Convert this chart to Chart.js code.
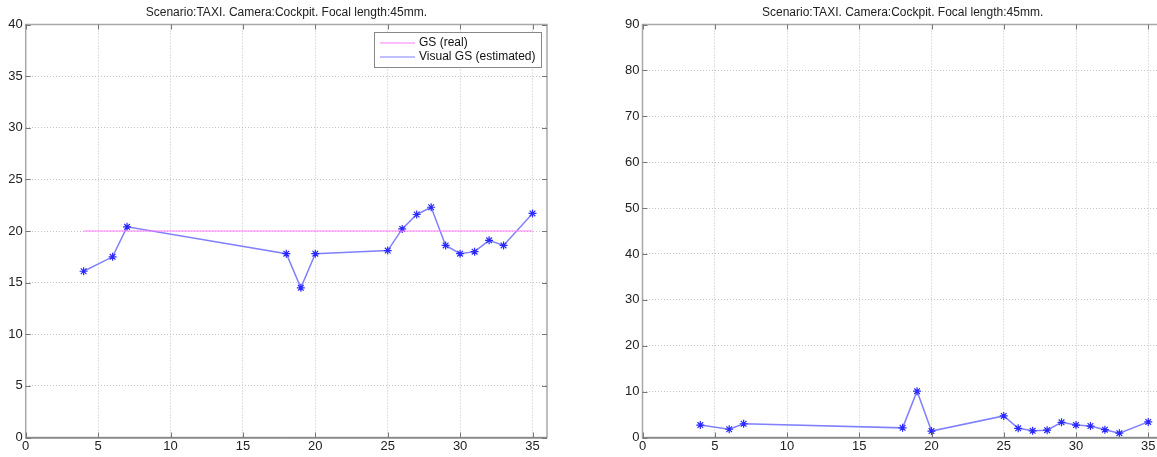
<!DOCTYPE html>
<html>
<head>
<meta charset="utf-8">
<script src="https://cdn.jsdelivr.net/npm/chart.js@4.4.0/dist/chart.umd.min.js"></script>
<style>
  html, body { margin: 0; padding: 0; background: #fff; overflow: hidden; width: 1157px; height: 457px; }
  #left { position: absolute; left: 0; top: 0; }
  #right { position: absolute; left: 580px; top: 0; }
</style>
</head>
<body>
<canvas id="left" width="580" height="457"></canvas>
<canvas id="right" width="600" height="457"></canvas>
<script>
// frame numbers where the visual estimate was taken
var frames = [4, 6, 7, 18, 19, 20, 25, 26, 27, 28, 29, 30, 31, 32, 33, 35];
// left plot: estimated ground speed
var visualGS = [16.1, 17.5, 20.4, 17.8, 14.5, 17.8, 18.1, 20.2, 21.6, 22.3, 18.6, 17.8, 18.0, 19.1, 18.6, 21.7];
// reference (real) ground speed
var realFrames = [4, 35];
var realGS = [20, 20];
// right plot: error
var gsError = [2.7, 1.8, 3.0, 2.1, 10.1, 1.4, 4.7, 2.0, 1.45, 1.6, 3.3, 2.7, 2.5, 1.7, 0.95, 3.4];

var titleText = 'Scenario:TAXI. Camera:Cockpit. Focal length:45mm.';
var xTicks = [0, 5, 10, 15, 20, 25, 30, 35];

Chart.defaults.font.family = 'Arial, "Liberation Sans", sans-serif';
Chart.defaults.color = '#222';

function pts(xs, ys) {
  return xs.map(function (x, i) { return { x: x, y: ys[i] }; });
}

// title, frame and inward tick marks, matlab style
var framePlugin = {
  id: 'frame',
  afterDraw: function (chart) {
    var ctx = chart.ctx, a = chart.chartArea;
    ctx.save();
    ctx.font = '12px Arial, "Liberation Sans", sans-serif';
    ctx.fillStyle = '#222';
    ctx.textAlign = 'center';
    ctx.textBaseline = 'middle';
    ctx.fillText(titleText, (a.left + a.right) / 2, 13);

    ctx.strokeStyle = '#a8a8a8';
    ctx.lineWidth = 1.5;
    ctx.strokeRect(a.left, a.top, a.right - a.left, a.bottom - a.top);
    ctx.strokeStyle = '#666';
    ctx.lineWidth = 1;
    ctx.beginPath();
    ctx.moveTo(a.left, a.bottom + 0.5);
    ctx.lineTo(a.right, a.bottom + 0.5);
    ctx.stroke();

    ctx.strokeStyle = '#777';
    var xs = chart.scales.x, ys = chart.scales.y;
    ctx.beginPath();
    xs.ticks.forEach(function (t) {
      if (t.value % 5 !== 0) return;
      var px = Math.round(xs.getPixelForValue(t.value)) + 0.5;
      ctx.moveTo(px, a.bottom); ctx.lineTo(px, a.bottom - 5);
      ctx.moveTo(px, a.top); ctx.lineTo(px, a.top + 5);
    });
    ys.ticks.forEach(function (t) {
      var py = Math.round(ys.getPixelForValue(t.value)) + 0.5;
      ctx.moveTo(a.left, py); ctx.lineTo(a.left + 5, py);
      ctx.moveTo(a.right, py); ctx.lineTo(a.right - 5, py);
    });
    ctx.stroke();
    ctx.restore();
  }
};

// legend box drawn inside the plot (top right)
var insideLegend = {
  id: 'insideLegend',
  afterDraw: function (chart, args, opts) {
    if (!opts.show) return;
    var ctx = chart.ctx, a = chart.chartArea;
    var w = 167, h = 35;
    var x0 = a.right - 6 - w, y0 = a.top + 7.5;
    ctx.save();
    ctx.fillStyle = '#fff';
    ctx.fillRect(x0, y0, w, h);
    ctx.strokeStyle = '#888';
    ctx.lineWidth = 1;
    ctx.strokeRect(Math.round(x0) + 0.5, Math.round(y0) + 0.5, w, h);
    ctx.font = '12px Arial, "Liberation Sans", sans-serif';
    ctx.textBaseline = 'middle';
    chart.data.datasets.forEach(function (ds, i) {
      var yy = y0 + 11 + i * 14;
      ctx.strokeStyle = ds.borderColor;
      ctx.lineWidth = 1.2;
      ctx.beginPath();
      ctx.moveTo(x0 + 6, yy); ctx.lineTo(x0 + 41, yy);
      ctx.stroke();
      ctx.fillStyle = '#111';
      ctx.fillText(ds.label, x0 + 45, yy);
    });
    ctx.restore();
  }
};

function makeChart(id, datasets, yMax, yStep, yWidth, padRight, showLegend) {
  return new Chart(document.getElementById(id), {
    type: 'line',
    data: { datasets: datasets },
    options: {
      responsive: false,
      animation: false,
      devicePixelRatio: 1,
      layout: { padding: { left: 0, right: padRight, top: 24.5, bottom: 0 } },
      plugins: {
        legend: { display: false },
        tooltip: { enabled: false },
        insideLegend: { show: showLegend }
      },
      scales: {
        x: {
          type: 'linear',
          min: 0,
          max: 36,
          afterFit: function (s) { s.height = 19.5; },
          afterBuildTicks: function (s) {
            s.ticks = xTicks.map(function (v) { return { value: v }; });
          },
          ticks: {
            autoSkip: false,
            maxRotation: 0,
            padding: 1,
            font: { size: 13 },
            color: '#222'
          },
          grid: { color: '#c4c4c4', drawTicks: false, lineWidth: 1 },
          border: { display: false, dash: [1, 2] }
        },
        y: {
          min: 0,
          max: yMax,
          afterFit: function (s) { s.width = yWidth; },
          ticks: {
            stepSize: yStep,
            padding: 3,
            font: { size: 13 },
            color: '#222'
          },
          grid: { color: '#c4c4c4', drawTicks: false, lineWidth: 1 },
          border: { display: false, dash: [1, 2] }
        }
      }
    },
    plugins: [framePlugin, insideLegend]
  });
}

var starPoints = {
  pointStyle: 'star',
  pointRadius: 4,
  pointBorderColor: '#2a2aff',
  pointBackgroundColor: '#2a2aff',
  pointBorderWidth: 1.2
};

makeChart('left', [
  {
    label: 'GS (real)',
    data: pts(realFrames, realGS),
    borderColor: '#ff7cff',
    borderWidth: 1.2,
    pointRadius: 0,
    tension: 0
  },
  Object.assign({
    label: 'Visual GS (estimated)',
    data: pts(frames, visualGS),
    borderColor: '#8080ff',
    borderWidth: 1.5,
    tension: 0
  }, starPoints)
], 40, 5, 25.7, 33, true);

makeChart('right', [
  Object.assign({
    label: 'GS error',
    data: pts(frames, gsError),
    borderColor: '#8080ff',
    borderWidth: 1.5,
    tension: 0
  }, starPoints)
], 90, 10, 62.5, 17.3, false);
</script>
</body>
</html>
